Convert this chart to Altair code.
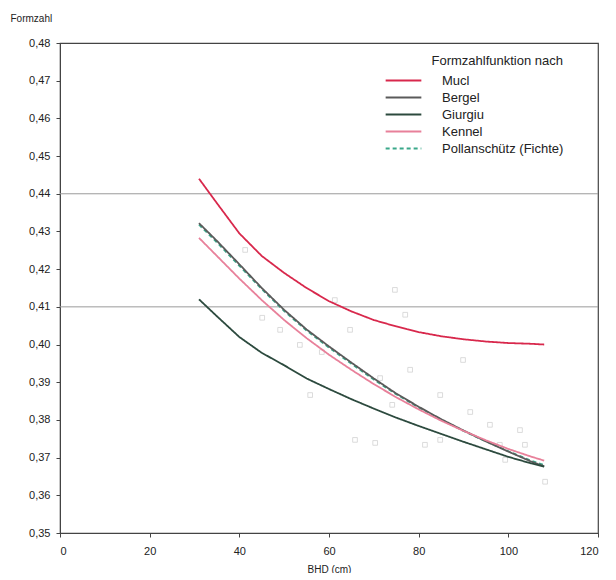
import altair as alt
import pandas as pd

# x positions (BHD in cm) at which the curves were read
bhd = [31, 35, 40, 45, 50, 55, 60, 65, 70, 75, 80, 85, 90, 95, 100, 105, 108]

mucl = [0.4440, 0.4375, 0.4295, 0.4235, 0.4190, 0.4150, 0.4115, 0.4088, 0.4065,
        0.4048, 0.4033, 0.4022, 0.4014, 0.4008, 0.4004, 0.4002, 0.4000]
bergel = [0.4322, 0.4275, 0.4213, 0.4150, 0.4092, 0.4040, 0.3995, 0.3952, 0.3910,
          0.3870, 0.3835, 0.3802, 0.3772, 0.3743, 0.3716, 0.3690, 0.3677]
giurgiu = [0.4120, 0.4075, 0.4020, 0.3978, 0.3945, 0.3910, 0.3882, 0.3855, 0.3830,
           0.3806, 0.3784, 0.3763, 0.3742, 0.3722, 0.3702, 0.3685, 0.3676]
kennel = [0.4283, 0.4235, 0.4175, 0.4118, 0.4065, 0.4017, 0.3973, 0.3933, 0.3895,
          0.3860, 0.3828, 0.3798, 0.3771, 0.3746, 0.3723, 0.3703, 0.3692]
pollan = [0.4318, 0.4271, 0.4209, 0.4147, 0.4089, 0.4037, 0.3992, 0.3949, 0.3907,
          0.3868, 0.3833, 0.3801, 0.3771, 0.3743, 0.3717, 0.3692, 0.3680]

series_names = ["Pollanschütz (Fichte)", "Mucl", "Bergel", "Giurgiu", "Kennel"]
legend_order = ["Mucl", "Bergel", "Giurgiu", "Kennel", "Pollanschütz (Fichte)"]
series_vals = [pollan, mucl, bergel, giurgiu, kennel]
legend_colors = ["#d8284c", "#5a5a5a", "#2c4a3e", "#e8809a", "#3aa88a"]
legend_dashes = [[1, 0], [1, 0], [1, 0], [1, 0], [4, 3]]

y_ticks = [0.35, 0.36, 0.37, 0.38, 0.39, 0.40, 0.41, 0.42, 0.43, 0.44, 0.45,
           0.46, 0.47, 0.48]
x_ticks = [0, 20, 40, 60, 80, 100, 120]

# faint measured points
pts_x = [45.1, 53.5, 58.4, 61.3, 64.7, 71.4, 74.1, 78.1, 81.4, 84.8, 89.9, 91.5,
         95.9, 99.3, 103.7, 108.2, 102.6, 74.7, 41.3, 49.1, 55.8, 65.8, 70.3, 98.1,
         84.8, 77.0]
pts_y = [0.4071, 0.3999, 0.3980, 0.4118, 0.4039, 0.3911, 0.3840, 0.3933, 0.3734,
         0.3747, 0.3959, 0.3821, 0.3787, 0.3694, 0.3734, 0.3636, 0.3773, 0.4145,
         0.4251, 0.4039, 0.3866, 0.3747, 0.3739, 0.3734, 0.3866, 0.4079]

grid_values = [0.41, 0.44]

rows = []
for name, vals in zip(series_names, series_vals):
    for x, y in zip(bhd, vals):
        rows.append({"BHD": x, "Formzahl": y, "Funktion": name})
df = pd.DataFrame(rows)
pts = pd.DataFrame({"BHD": pts_x, "Formzahl": pts_y})
grid = pd.DataFrame({"y": grid_values})

xscale = alt.Scale(domain=[0, 120], nice=False, zero=False)
yscale = alt.Scale(domain=[0.35, 0.48], nice=False, zero=False)

font = "Liberation Sans"

x_axis = alt.Axis(values=x_ticks, title="BHD (cm)", grid=False, tickSize=4,
                  labelPadding=8, titlePadding=8, labelOverlap=False)
y_axis = alt.Axis(values=y_ticks,
                  labelExpr="replace(format(datum.value, '.2f'), '.', ',')",
                  title="Formzahl", titleAngle=0, titleAlign="left",
                  titleX=-50, titleY=-20, grid=False, tickSize=4,
                  labelPadding=6, labelOverlap=False, labelFontSize=11)

gridlayer = alt.Chart(grid).mark_rule(color="#9a9a9a", strokeWidth=1).encode(
    y=alt.Y("y:Q", scale=yscale, axis=y_axis)
)

points = alt.Chart(pts).mark_point(shape="square", size=22, color="#a8a8a8",
                                     opacity=0.5, strokeWidth=0.8).encode(
    x=alt.X("BHD:Q", scale=xscale, axis=x_axis),
    y=alt.Y("Formzahl:Q", scale=yscale, axis=y_axis),
)

lines = alt.Chart(df).mark_line(strokeWidth=1.8).encode(
    x=alt.X("BHD:Q", scale=xscale, axis=x_axis),
    y=alt.Y("Formzahl:Q", scale=yscale, axis=y_axis),
    color=alt.Color("Funktion:N",
                    scale=alt.Scale(domain=legend_order, range=legend_colors),
                    sort=legend_order,
                    legend=alt.Legend(title="Formzahlfunktion nach", orient="none",
                                      legendX=334, legendY=12, titleAnchor="end",
                                      padding=0,
                                      titleFontWeight="normal", titleFontSize=13,
                                      titleFont=font, labelFont=font, labelFontSize=13,
                                      symbolType="M-2.1,0H2.1", symbolSize=289,
                                      symbolStrokeWidth=1.8, labelOffset=29,
                                      rowPadding=0, titlePadding=3)),
    strokeDash=alt.StrokeDash("Funktion:N",
                              scale=alt.Scale(domain=legend_order, range=legend_dashes),
                              sort=legend_order),
)

chart = alt.layer(gridlayer, points, lines).properties(
    width=538, height=490,
    autosize=alt.AutoSizeParams(type="none"),
    padding={"left": 52, "top": 35, "right": 10, "bottom": 40},
).configure_view(stroke="#444444", strokeWidth=1.2).configure_axis(
    labelFont=font, titleFont=font, labelFontSize=11, titleFontSize=10,
    titleFontWeight="normal", domainColor="#444444", tickColor="#444444",
    labelColor="#222222", titleColor="#222222", labelOverlap=False,
).configure_legend(labelColor="#222222", titleColor="#222222")

chart.save("out.html", embed_options={"renderer": "svg", "actions": False})
